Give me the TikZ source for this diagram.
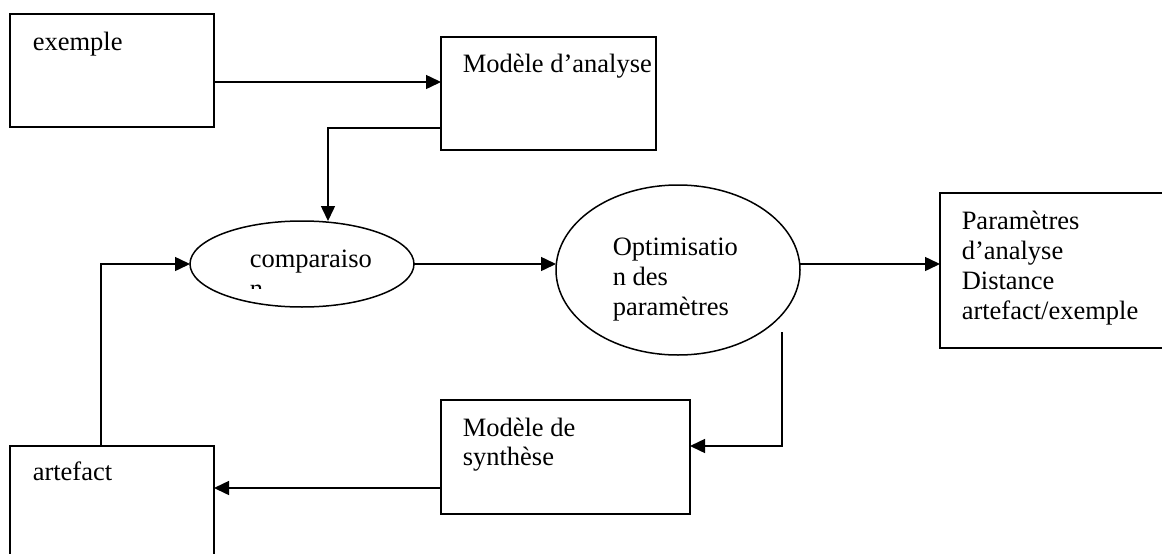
\documentclass[tikz,border=0pt]{standalone}
\usepackage{fontspec}
\setmainfont{Liberation Serif}
\usetikzlibrary{arrows.meta,shapes.geometric}
\begin{document}
\begin{tikzpicture}[x=1pt,y=-1pt,
  line width=1.5pt,
  boxnode/.style={draw,rectangle,inner sep=0,outer sep=0},
  ellnode/.style={draw,ellipse,inner sep=0,outer sep=0},
  txt/.style={anchor=base west,inner sep=0,font=\fontsize{26.5}{30}\selectfont},
  arr/.style={-{Triangle[length=15pt,width=14pt]}}
]
\useasboundingbox (0,0) rectangle (1162,554);
\clip (0,0) rectangle (1162,554);
\fill[white] (0,0) rectangle (1162,554);

% boxes
\node[boxnode,minimum width=204pt,minimum height=113pt] (ex) at (112,70.5) {};
\node[boxnode,minimum width=215pt,minimum height=113pt] (an) at (548.5,93.5) {};
\node[boxnode,minimum width=235pt,minimum height=155pt] (pa) at (1057.5,270.5) {};
\node[boxnode,minimum width=249pt,minimum height=114pt] (sy) at (565.5,457) {};
\node[boxnode,minimum width=204pt,minimum height=124pt] (ar) at (112,508) {};
% ellipses
\node[ellnode,minimum width=224pt,minimum height=86pt] (co) at (302,264) {};
\node[ellnode,minimum width=244pt,minimum height=170pt] (op) at (678,270) {};

% texts
\node[txt] (tex) at (32,50) {exemple};
\node[txt] (tan) at (462,72) {Modèle d’analyse};
\node[txt] (tco) at (249,267) {comparaiso};
\begin{scope}
  \clip (240,240) rectangle (300,288.5);
  \node[txt] (tco2) at (249,297) {n};
\end{scope}
\node[txt] (top1) at (612,255) {Optimisatio};
\node[txt] (top2) at (612,285) {n des};
\node[txt] (top3) at (612,315) {paramètres};
\node[txt] (tpa1) at (961,229) {Paramètres};
\node[txt] (tpa2) at (961,259) {d’analyse};
\node[txt] (tpa3) at (961,289) {Distance};
\node[txt] (tpa4) at (961,319) {artefact/exemple};
\node[txt] (tsy1) at (462,436) {Modèle de};
\node[txt] (tsy2) at (462,465) {synthèse};
\node[txt] (tar) at (32,480) {artefact};

% connectors
\draw[arr] (ex.east |- 0,82) -- (an.west |- 0,82);
\draw[arr] (an.west |- 0,128) -| (co.north -| 328,0);
\draw[arr] (ar.north -| 101,0) |- (co.west);
\draw[arr] (co.east) -- (co.east -| op.west);
\coordinate (opout) at (800,264);
\draw[arr] (opout) -- (opout -| pa.west);
\coordinate (opdown) at (782,332);
\draw[arr] (opdown) |- (sy.east |- 0,446);
\draw[arr] (sy.west |- 0,488) -- (ar.east |- 0,488);
\end{tikzpicture}
\end{document}
